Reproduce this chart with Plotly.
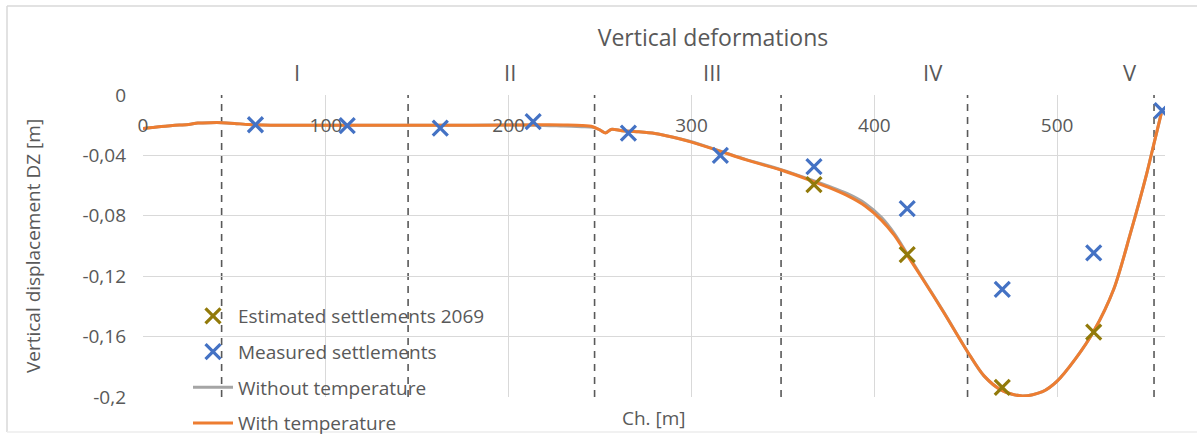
import plotly.graph_objects as go

# ---------------- data ----------------
curve_x = [0, 5, 10, 15, 20, 25, 30, 37, 43, 50, 58, 70, 90, 120, 150, 180, 200, 215, 230, 240,
           246, 250, 253, 256, 262, 270, 280, 290, 300, 315, 330, 349, 366, 375, 385, 395, 404,
           411, 418, 426, 438, 451, 460, 470, 481, 492, 500, 510, 520, 531, 540, 549, 553, 557]
with_temp = [-0.0222, -0.0215, -0.0208, -0.0203, -0.0199, -0.0195, -0.0186, -0.0183, -0.0183,
             -0.0188, -0.0196, -0.0200, -0.0201, -0.0201, -0.0201, -0.0200, -0.0199, -0.0197,
             -0.0199, -0.0202, -0.0210, -0.0232, -0.0252, -0.0228, -0.0236, -0.0243, -0.0255,
             -0.0280, -0.0312, -0.0370, -0.0430, -0.0497, -0.0570, -0.0612, -0.0665, -0.0735,
             -0.0830, -0.0930, -0.1060, -0.1210, -0.1440, -0.1700, -0.1860, -0.1958, -0.1993,
             -0.1965, -0.1895, -0.1748, -0.1565, -0.1285, -0.0920, -0.0520, -0.0320, -0.0120]
without_temp = [-0.0222, -0.0215, -0.0208, -0.0203, -0.0199, -0.0195, -0.0186, -0.0183, -0.0183,
                -0.0188, -0.0196, -0.0200, -0.0201, -0.0201, -0.0201, -0.0200, -0.0199, -0.0200,
                -0.0206, -0.0210, -0.0214, -0.0232, -0.0250, -0.0228, -0.0236, -0.0243, -0.0255,
                -0.0280, -0.0310, -0.0368, -0.0428, -0.0494, -0.0564, -0.0604, -0.0652, -0.0718,
                -0.0812, -0.0918, -0.1052, -0.1205, -0.1438, -0.1700, -0.1860, -0.1958, -0.1993,
                -0.1965, -0.1895, -0.1748, -0.1565, -0.1285, -0.0920, -0.0520, -0.0320, -0.0120]

measured_x = [61.5, 111.7, 162.6, 213.4, 265.5, 315.8, 367.0, 418.0, 470.0, 520.0, 557.4]
measured_y = [-0.0197, -0.0203, -0.0220, -0.0177, -0.0252, -0.0400, -0.0475, -0.0752, -0.1288, -0.1046, -0.0104]

estimated_x = [367.0, 418.0, 470.0, 520.0]
estimated_y = [-0.0593, -0.1057, -0.1936, -0.1570]

section_bounds = [43, 145, 247, 349, 451, 553]
section_labels = ["I", "II", "III", "IV", "V"]
section_label_x = [84, 201, 311, 432, 540]

x_tickvals = [0, 100, 200, 300, 400, 500]
x_ticktext = ["0", "100", "200", "300", "400", "500"]
y_tickvals = [0, -0.04, -0.08, -0.12, -0.16, -0.2]
y_ticktext = ["0", "-0,04", "-0,08", "-0,12", "-0,16", "-0,2"]

# ---------------- layout geometry ----------------
W, H = 1197, 435
ML, MR, MT, MB = 143, 32, 95, 38
PW, PH = W - ML - MR, H - MT - MB

def px2paper_x(px):
    return (px - ML) / PW

def py2paper_y(py):
    return (H - MB - py) / PH

TXT = "#595959"
FONT = "Open Sans"

fig = go.Figure()

# lines first (drawn below markers), legend order set by legendrank
fig.add_trace(go.Scatter(
    x=curve_x, y=without_temp, mode="lines", name="Without temperature",
    legendgroup="c", legendrank=3,
    line=dict(color="#A5A5A5", width=3, shape="spline", smoothing=0.8)))
fig.add_trace(go.Scatter(
    x=curve_x, y=with_temp, mode="lines", name="With temperature",
    legendgroup="d", legendrank=4,
    line=dict(color="#ED7D31", width=3, shape="spline", smoothing=0.8)))
fig.add_trace(go.Scatter(
    x=estimated_x, y=estimated_y, mode="markers", name="Estimated settlements 2069",
    legendgroup="a", legendrank=1,
    marker=dict(symbol="x-thin", size=15, color="#927A0A", line=dict(width=3.2, color="#927A0A"))))
fig.add_trace(go.Scatter(
    x=measured_x, y=measured_y, mode="markers", name="Measured settlements",
    legendgroup="b", legendrank=2,
    marker=dict(symbol="x-thin", size=15, color="#4472C4", line=dict(width=3.2, color="#4472C4"))))

shapes = []
for b in section_bounds:
    shapes.append(dict(type="line", xref="x", yref="paper", x0=b, x1=b, y0=0, y1=1,
                       line=dict(color="#595959", width=1.6, dash="7px,6px"), layer="below"))
# chart-area border
bx0, by0, by1 = px2paper_x(7), py2paper_y(432), py2paper_y(6)
shapes.append(dict(type="line", xref="paper", yref="paper", x0=bx0, x1=bx0, y0=by0, y1=by1,
                   line=dict(color="#d9d9d9", width=1.5)))
shapes.append(dict(type="line", xref="paper", yref="paper", x0=bx0, x1=px2paper_x(1200), y0=by1, y1=by1,
                   line=dict(color="#d9d9d9", width=1.5)))
shapes.append(dict(type="line", xref="paper", yref="paper", x0=bx0, x1=px2paper_x(1200), y0=by0, y1=by0,
                   line=dict(color="#ececec", width=1.5)))

annotations = []
for lab, lx in zip(section_labels, section_label_x):
    annotations.append(dict(text=lab, x=lx, xref="x", y=py2paper_y(72), yref="paper",
                            showarrow=False, xanchor="center", yanchor="middle",
                            font=dict(family=FONT, size=22, color=TXT)))
annotations.append(dict(text="Ch. [m]", x=0.5, xref="paper", y=py2paper_y(418), yref="paper",
                        showarrow=False, xanchor="center", yanchor="middle",
                        font=dict(family=FONT, size=19, color=TXT)))

fig.update_layout(
    width=W, height=H,
    margin=dict(l=ML, r=MR, t=MT, b=MB, autoexpand=False),
    paper_bgcolor="white", plot_bgcolor="white",
    font=dict(family=FONT, size=19, color=TXT),
    title=dict(text="Vertical deformations", x=713 / W, xref="container", xanchor="center",
               y=1 - 38 / H, yref="container", yanchor="middle",
               font=dict(family=FONT, size=23, color=TXT)),
    showlegend=True,
    legend=dict(x=px2paper_x(188), xanchor="left", y=py2paper_y(297), yanchor="top",
                bgcolor="rgba(0,0,0,0)", traceorder="grouped", tracegroupgap=8,
                font=dict(family=FONT, size=19, color=TXT), itemwidth=40),
    shapes=shapes,
    annotations=annotations,
    xaxis=dict(range=[0, 559], side="top", tickmode="array", tickvals=x_tickvals, ticktext=x_ticktext,
               ticklabelposition="inside", ticklabelstandoff=21, ticklabeloverflow="allow", ticks="",
               showgrid=True, gridcolor="#d9d9d9", gridwidth=1.3, zeroline=False,
               showline=False, tickfont=dict(family=FONT, size=19, color=TXT)),
    yaxis=dict(range=[-0.2, 0], tickmode="array", tickvals=y_tickvals, ticktext=y_ticktext,
               ticks="", ticklabelstandoff=16, ticklabeloverflow="allow",
               showgrid=True, gridcolor="#d9d9d9", gridwidth=1.3,
               zeroline=False, showline=False, tickfont=dict(family=FONT, size=19, color=TXT),
               title=dict(text="Vertical displacement DZ [m]", standoff=36,
                          font=dict(family=FONT, size=19, color=TXT))),
)

fig.write_html("out.html")
